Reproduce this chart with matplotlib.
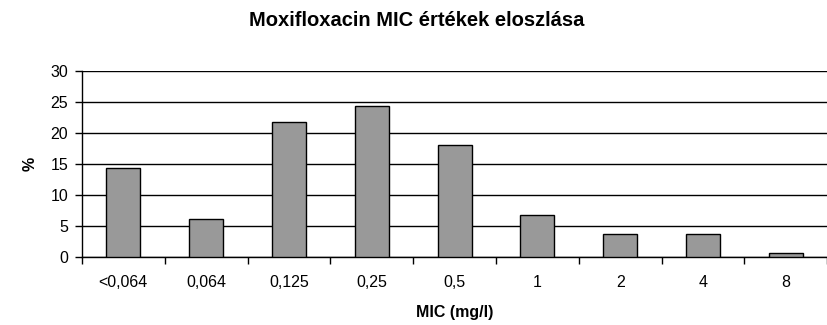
import matplotlib
matplotlib.use("Agg")
import matplotlib.pyplot as plt
import numpy as np

plt.rcParams['font.family'] = ['Liberation Sans', 'DejaVu Sans']

mic_labels = ["<0,064", "0,064", "0,125", "0,25", "0,5", "1", "2", "4", "8"]
percent = [14.3, 6.2, 21.8, 24.3, 18.0, 6.8, 3.7, 3.7, 0.6]

fig = plt.figure(figsize=(8.28, 3.25), dpi=100)
ax = fig.add_axes([0.099, 0.209, 0.9, 0.573])

x = np.arange(len(mic_labels))
ax.bar(x, percent, 0.41, color='#999999', edgecolor='black', linewidth=1, zorder=3)

ax.set_xlim(-0.5, len(mic_labels) - 0.5)
ax.set_ylim(0, 30)
ax.set_yticks(np.arange(0, 31, 5))
ax.yaxis.grid(True, color='black', lw=1, zorder=0)
ax.set_axisbelow(True)

# category labels centred, tick marks between categories
ax.set_xticks(x)
ax.set_xticklabels(mic_labels, fontsize=11.5)
ax.tick_params(axis='x', which='major', length=0, pad=13)
ax.set_xticks(np.arange(-0.5, len(mic_labels)), minor=True)
ax.tick_params(axis='x', which='minor', length=5, direction='out', width=1)
ax.tick_params(axis='y', length=5, direction='out', width=1, labelsize=11.5, pad=5)

for side in ('top', 'right'):
    ax.spines[side].set_visible(False)
for side in ('left', 'bottom'):
    ax.spines[side].set_linewidth(1)

ax.set_xlabel("MIC (mg/l)", fontsize=11.5, fontweight='bold', labelpad=11)
ax.set_ylabel("%", fontsize=11.5, fontweight='bold', labelpad=9)
fig.suptitle("Moxifloxacin MIC értékek eloszlása", fontsize=14.5, fontweight='bold',
             x=0.503, y=0.965)

fig.savefig("out.png", dpi=100)
